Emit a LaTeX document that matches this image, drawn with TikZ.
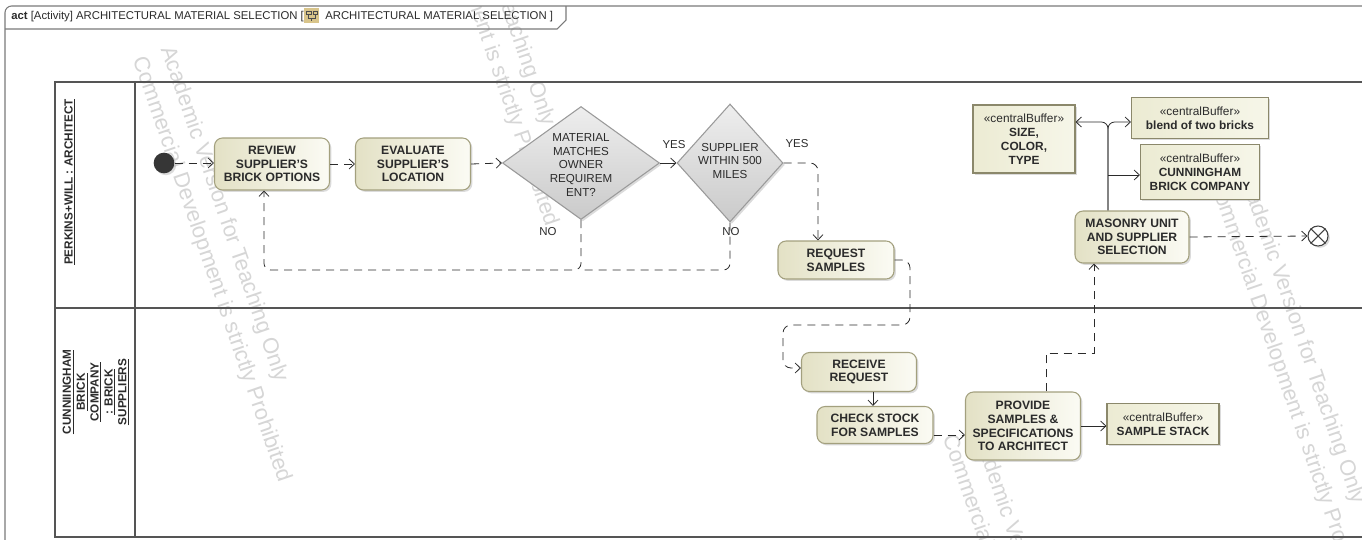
\documentclass[tikz,border=0pt]{standalone}
\usepackage{fontspec}
\setmainfont{Liberation Sans}
\usetikzlibrary{shapes.geometric,shadows,arrows.meta}
\definecolor{actB}{HTML}{A3A07E}
\definecolor{actL}{HTML}{E3E1C5}
\definecolor{actR}{HTML}{FBFBF4}
\definecolor{bufL}{HTML}{ECEBD3}
\definecolor{bufR}{HTML}{F6F6E9}
\definecolor{diaT}{HTML}{EEEEEE}
\definecolor{diaB}{HTML}{CACACA}
\definecolor{diaD}{HTML}{9A9A9A}
\definecolor{lane}{HTML}{555555}
\definecolor{frm}{HTML}{7A7A7A}
\definecolor{wm}{HTML}{D6D6D6}
\definecolor{ink}{HTML}{2B2B2B}
\definecolor{iconc}{HTML}{D8C48A}
\begin{document}
\begin{tikzpicture}[x=0.75pt,y=-0.75pt,
  shad/.style={drop shadow={shadow xshift=1.4pt,shadow yshift=-1.4pt,fill=black!28}},
  actn/.style={draw=actB, line width=0.8pt, rounded corners=6pt, left color=actL, right color=actR, shad,
    align=center, font=\fontsize{9.1}{10.3}\selectfont\bfseries, text=ink, inner sep=0pt},
  buf/.style={draw=actB!85!black, line width=0.8pt, left color=bufL, right color=bufR, shad,
    align=center, font=\fontsize{8.9}{10.6}\selectfont, text=ink, inner sep=0pt},
  dia/.style={shape=diamond, draw=diaD, line width=0.8pt, top color=diaT, bottom color=diaB, shad, inner sep=0pt},
  dtext/.style={align=center, font=\fontsize{8.7}{10.3}\selectfont, text=ink},
  lbl/.style={font=\fontsize{8.6}{10}\selectfont, text=ink},
  flow/.style={draw=ink, line width=0.6pt, -{Straight Barb[length=4pt,width=7.5pt]}},
  dline/.style={draw=ink, line width=0.6pt, dash pattern=on 6pt off 4.5pt},
  dflow/.style={flow, dash pattern=on 6pt off 4.5pt},
  lanel/.style={draw=lane, line width=1.3pt},
  frame/.style={draw=frm, line width=0.8pt},
  lanetxt/.style={font=\fontsize{8.8}{10.4}\selectfont\bfseries, text=ink, align=center, rotate=90},
  wmk/.style={font=\fontsize{16.5}{18}\selectfont, text=wm, rotate=-71, anchor=west, inner sep=0pt}
]
\useasboundingbox (0,0) rectangle (1362,539);
\fill[white] (0,0) rectangle (1362,539);

% watermark
\begin{scope}
\clip (5,6) rectangle (1362,539);
\foreach \sx/\sy in {138/57, 405/-199, 948/435, 1215/179}{
  \node[wmk] at (\sx+28,\sy-10) {Academic Version for Teaching Only};
  \node[wmk] at (\sx,\sy) {Commercial Development is strictly Prohibited};
}
\end{scope}

% frame
\draw[frame, rounded corners=5pt] (5,545) -- (5,6) -- (1370,6);
\draw[frame] (5,29) -- (557,29) -- (566,20) -- (566,6);
\node[anchor=base west, inner sep=0pt, font=\fontsize{8.5}{10}\selectfont, text=ink] (t1) at (11,19)
  {\textbf{act} [Activity] ARCHITECTURAL MATERIAL SELECTION [};
\node[anchor=base west, inner sep=0pt, font=\fontsize{8.5}{10}\selectfont, text=ink] (t2) at (325,19)
  {ARCHITECTURAL MATERIAL SELECTION ]};
\fill[iconc] (304,8) rectangle (319,23);
\draw[black!70, line width=0.5pt] (306,11) rectangle (311,14) (313,11) rectangle (317,14)
  (308.5,14) -- (308.5,18) -- (315,18) -- (315,14) (311.5,18) -- (311.5,21);

% swimlanes
\draw[lanel] (1370,82) -- (55,82) -- (55,537) -- (1370,537);
\draw[lanel] (55,308) -- (1370,308);
\draw[lanel] (135,82) -- (135,537);
\node[lanetxt] (lane1) at (70,182) {\underline{PERKINS+WILL : ARCHITECT}};
\node[lanetxt] (lane2) at (96,392) {\underline{CUNNIINGHAM}\\\underline{BRICK}\\\underline{COMPANY}\\\underline{: BRICK}\\\underline{SUPPLIERS}};

% nodes
\node[circle, fill=ink!95, minimum size=15.5pt, inner sep=0pt, shad] (init) at (164,163) {};
\node[actn, minimum width=86.25pt, minimum height=39pt] (review) at (272,164) {REVIEW\\SUPPLIER'S\\BRICK OPTIONS};
\node[actn, minimum width=86.25pt, minimum height=39pt] (evaluate) at (413,164) {EVALUATE\\SUPPLIER'S\\LOCATION};
\node[dia, minimum width=117.75pt, minimum height=84.75pt] (d1) at (581,163) {};
\node[dtext] at (581,165) {MATERIAL\\MATCHES\\OWNER\\REQUIREM\\ENT?};
\node[dia, minimum width=79.5pt, minimum height=88.5pt] (d2) at (730,163) {};
\node[dtext] at (730,161) {SUPPLIER\\WITHIN 500\\MILES};
\node[actn, minimum width=87pt, minimum height=28.5pt] (request) at (836,260) {REQUEST\\SAMPLES};
\node[actn, minimum width=85.5pt, minimum height=39pt] (masonry) at (1132,237) {MASONRY UNIT\\AND SUPPLIER\\SELECTION};
\node[buf, minimum width=76.5pt, minimum height=51pt] (size) at (1024,139) {«centralBuffer»\\\textbf{SIZE,}\\\textbf{COLOR,}\\\textbf{TYPE}};
\node[buf, minimum width=102.75pt, minimum height=30.75pt] (blend) at (1200,118) {«centralBuffer»\\\textbf{blend of two bricks}};
\node[buf, minimum width=89.25pt, minimum height=41.25pt] (cbc) at (1200,172) {«centralBuffer»\\\textbf{CUNNINGHAM}\\\textbf{BRICK COMPANY}};
\node[circle, draw=ink!90, line width=0.8pt, fill=white, minimum size=15pt, inner sep=0pt, shad] (final) at (1318,236) {};
\draw[ink!90, line width=0.8pt] (final.north west) -- (final.south east) (final.north east) -- (final.south west);
\node[actn, minimum width=86.25pt, minimum height=29.25pt] (receive) at (859,372) {RECEIVE\\REQUEST};
\node[actn, minimum width=87pt, minimum height=27.75pt] (check) at (875,425) {CHECK STOCK\\FOR SAMPLES};
\node[actn, minimum width=86.25pt, minimum height=51pt] (provide) at (1023,426) {PROVIDE\\SAMPLES \&\\SPECIFICATIONS\\TO ARCHITECT};
\node[buf, minimum width=84pt, minimum height=30.75pt] (stack) at (1163,424) {«centralBuffer»\\\textbf{SAMPLE STACK}};

% connectors
\draw[dflow] (init) -- (review.west |- init);
\draw[dflow] (review) -- (evaluate);
\draw[dflow] (evaluate.east) -- (d1.west);
\draw[flow] (d1.east) -- (d2.west);
\node[lbl] (yes1) at (674,145) {YES};
\draw[dflow, rounded corners=6pt] (d2.east) -| ([xshift=-13.5pt]request.north);
\node[lbl] (yes2) at (797,144) {YES};
\coordinate (nojoin) at (581,270);
\draw[dflow, rounded corners=5pt] (d1.south) -- (nojoin) -| ([xshift=-6pt]review.south);
\draw[dline, rounded corners=5pt] (d2.south) |- (nojoin);
\node[lbl] (no1) at (548,232) {NO};
\node[lbl] (no2) at (731,232) {NO};
\coordinate (r1) at (910,325);
\coordinate (r2) at (783,325);
\draw[dflow, rounded corners=6pt] (request.east) -| (r1) -- (r2) |- ([yshift=3pt]receive.west);
\draw[flow] ([xshift=10.5pt]receive.south) -- ([xshift=-1.5pt]check.north);
\draw[dflow] ([yshift=-7.5pt]check.east) coordinate (c1) -- (c1 -| provide.west);
\coordinate (p1) at (1094,353);
\draw[dflow] ([xshift=17.25pt]provide.north) |- (p1) -- ([xshift=-28.5pt]masonry.south);
\draw[flow] (provide.east) -- (provide.east -| stack.west);
\coordinate (mtop) at ([xshift=-18pt]masonry.north);
\draw[flow, rounded corners=5pt] (mtop) |- ([yshift=12.75pt]size.east);
\draw[flow, rounded corners=5pt] (mtop) |- ([yshift=-3pt]blend.west);
\coordinate (m3) at (1108,175);
\draw[flow] (m3) -- (m3 -| cbc.west);
\draw[dflow] (masonry.east) -- (final.west);
\end{tikzpicture}
\end{document}
